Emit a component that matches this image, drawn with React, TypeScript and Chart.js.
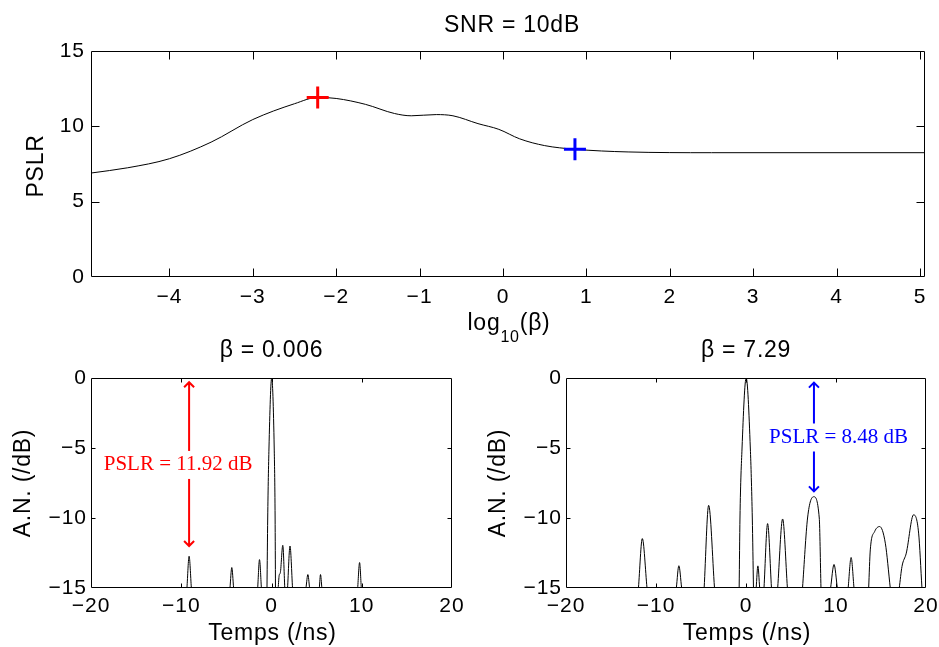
import React, { useEffect, useRef } from 'react';
import { Chart, registerables } from 'chart.js';

Chart.register(...registerables);

const SANS = '"Liberation Sans", Arial, Helvetica, sans-serif';
const SERIF = '"Liberation Serif", "Times New Roman", Times, serif';
const TICK_SPACING = '1px';
const LABEL_SPACING = '0.75px';

// ---------- top panel: PSLR vs log10(beta) ----------
const logBeta = [-4.94, -4.5, -4.0, -3.5, -3.0, -2.5, -2.22, -2.0, -1.65, -1.3, -1.1, -0.8, -0.6, -0.3, -0.05, 0.2, 0.5, 0.86, 1.5, 2.5, 5.06];
const pslrCurve = [6.9, 7.25, 7.85, 8.95, 10.45, 11.5, 11.92, 11.85, 11.46, 10.85, 10.7, 10.78, 10.7, 10.18, 9.8, 9.17, 8.72, 8.48, 8.3, 8.25, 8.25];
const topXTicks = [-4, -3, -2, -1, 0, 1, 2, 3, 4, 5];
const topYTicks = [0, 5, 10, 15];

const betaLow = 0.006;
const pslrLow = 11.92;
const betaHigh = 7.29;
const pslrHigh = 8.48;

// ---------- bottom panels: normalised amplitude vs time ----------
const timeTicks = [-20, -10, 0, 10, 20];
const levelTicks = [-15, -10, -5, 0];

// beta = 0.006 (null separates lobes)
const leftTime = [
  -9.37, -9.13, -8.88, -8.88,
  -4.6, -4.4, -4.2, -4.2,
  -1.53, -1.33, -1.12, -1.12,
  -0.5, -0.42, -0.28, 0.02, 0.3, 0.4, 0.44, 0.44,
  0.74, 0.85, 0.98, 1.25, 1.47, 1.47,
  1.78, 2.05, 2.33, 2.33,
  3.82, 4.03, 4.22, 4.22,
  5.3, 5.43, 5.58, 5.58,
  9.55, 9.76, 9.95,
];
const leftLevel = [
  -15, -12.73, -15, null,
  -15, -13.54, -15, null,
  -15, -12.97, -15, null,
  -15, -10, -5, 0, -5, -10, -15, null,
  -15, -14.1, -13.9, -11.95, -15, null,
  -15, -12.0, -15, null,
  -15, -14.04, -15, null,
  -15, -14.04, -15, null,
  -15, -13.18, -15,
];

// beta = 7.29
const rightTime = [
  -11.95, -11.52, -11.0, -11.0,
  -7.74, -7.46, -7.15, -7.15,
  -4.65, -4.15, -3.5, -3.5,
  -0.76, -0.67, -0.44, 0.02, 0.48, 0.7, 0.83, 0.83,
  1.13, 1.32, 1.52, 1.52,
  2.0, 2.4, 2.83, 2.83,
  3.52, 4.07, 4.6, 4.6,
  6.28, 6.84, 7.52, 8.14, 8.33, 8.33,
  9.4, 9.78, 10.15, 10.15,
  11.35, 11.68, 12.0, 12.0,
  13.63, 13.81, 14.29, 14.85, 15.48, 16.03, 16.03,
  17.03, 17.33, 17.81, 18.62, 19.18, 19.55,
];
const rightLevel = [
  -15, -11.47, -15, null,
  -15, -13.41, -15, null,
  -15, -9.1, -15, null,
  -15, -10, -5, 0, -5, -10, -15, null,
  -15, -13.42, -15, null,
  -15, -10.4, -15, null,
  -15, -10.07, -15, null,
  -15, -10, -8.48, -10, -15, null,
  -15, -13.32, -15, null,
  -15, -12.82, -15, null,
  -15, -12.28, -10.97, -10.61, -11.8, -15, null,
  -15, -13.47, -12.51, -9.77, -11.08, -15,
];

// annotation arrows (data coordinates)
const leftArrow = { x: -9.13, from: -0.3, to: -12.0, tx: -10.35, ty: -6.21 };
const rightArrow = { x: 7.55, from: -0.33, to: -8.1, tx: 10.29, ty: -4.25 };

type Txt = { t: string; x: number; y: number; size: number; rot?: boolean };
type Note = { x: number; from: number; to: number; tx: number; ty: number; text: string; color: string };

const fmt = (v: number) => String(v).replace('-', '\u2212');

function framePlugin(cfg: {
  tickLen: number;
  xTicks: number[];
  yTicks: number[];
  texts: Txt[];
  notes?: Note[];
  logLabel?: { cx: number; y: number };
}) {
  return {
    id: 'matlabFrame',
    beforeDraw(chart: any) {
      chart.ctx.letterSpacing = TICK_SPACING;
    },
    afterDraw(chart: any) {
      const ctx = chart.ctx as CanvasRenderingContext2D & { letterSpacing: string };
      const { left, right, top, bottom } = chart.chartArea;
      const xs = chart.scales.x;
      const ys = chart.scales.y;
      const L = Math.round(left) + 0.5;
      const R = Math.round(right) - 0.5;
      const T = Math.round(top) + 0.5;
      const B = Math.round(bottom) - 0.5;
      ctx.save();
      ctx.strokeStyle = '#000';
      ctx.lineWidth = 1;
      ctx.beginPath();
      ctx.rect(L, T, R - L, B - T);
      for (const v of cfg.xTicks) {
        const p = Math.round(xs.getPixelForValue(v)) + 0.5;
        if (Math.abs(p - L) < 2 || Math.abs(p - R) < 2) continue;
        ctx.moveTo(p, B);
        ctx.lineTo(p, B - cfg.tickLen);
        ctx.moveTo(p, T);
        ctx.lineTo(p, T + cfg.tickLen);
      }
      for (const v of cfg.yTicks) {
        const p = Math.round(ys.getPixelForValue(v)) + 0.5;
        if (Math.abs(p - T) < 2 || Math.abs(p - B) < 2) continue;
        ctx.moveTo(L, p);
        ctx.lineTo(L + cfg.tickLen, p);
        ctx.moveTo(R, p);
        ctx.lineTo(R - cfg.tickLen, p);
      }
      ctx.stroke();

      // annotations
      for (const n of cfg.notes || []) {
        const px = xs.getPixelForValue(n.x);
        const p0 = ys.getPixelForValue(n.from);
        const p1 = ys.getPixelForValue(n.to);
        ctx.strokeStyle = n.color;
        ctx.lineWidth = 2;
        ctx.beginPath();
        ctx.moveTo(px, p0);
        ctx.lineTo(px, p1);
        ctx.moveTo(px - 5, p0 + 5);
        ctx.lineTo(px, p0);
        ctx.lineTo(px + 5, p0 + 5);
        ctx.moveTo(px - 5, p1 - 5);
        ctx.lineTo(px, p1);
        ctx.lineTo(px + 5, p1 - 5);
        ctx.stroke();
        ctx.font = `21px ${SERIF}`;
        ctx.letterSpacing = '0px';
        const tx = xs.getPixelForValue(n.tx);
        const ty = ys.getPixelForValue(n.ty);
        const w = ctx.measureText(n.text).width;
        ctx.fillStyle = '#fff';
        ctx.fillRect(tx - w / 2 - 3, ty - 14, w + 6, 28);
        ctx.fillStyle = n.color;
        ctx.textAlign = 'center';
        ctx.textBaseline = 'middle';
        ctx.fillText(n.text, tx, ty);
      }

      // titles and axis labels
      ctx.fillStyle = '#000';
      ctx.letterSpacing = LABEL_SPACING;
      for (const t of cfg.texts) {
        ctx.font = `${t.size}px ${SANS}`;
        ctx.textAlign = 'center';
        if (t.rot) {
          ctx.save();
          ctx.translate(t.x, t.y);
          ctx.rotate(-Math.PI / 2);
          ctx.textBaseline = 'middle';
          ctx.fillText(t.t, 0, 0);
          ctx.restore();
        } else {
          ctx.textBaseline = 'alphabetic';
          ctx.fillText(t.t, t.x, t.y);
        }
      }
      if (cfg.logLabel) {
        const parts = [
          { s: 'log', size: 23, dy: 0 },
          { s: '10', size: 16, dy: 12 },
          { s: '(\u03B2)', size: 23, dy: 0 },
        ];
        let total = 0;
        const widths = parts.map((p) => {
          ctx.font = `${p.size}px ${SANS}`;
          const w = ctx.measureText(p.s).width;
          total += w;
          return w;
        });
        let x = cfg.logLabel.cx - total / 2;
        ctx.textAlign = 'left';
        ctx.textBaseline = 'alphabetic';
        parts.forEach((p, i) => {
          ctx.font = `${p.size}px ${SANS}`;
          ctx.fillText(p.s, x, cfg.logLabel!.y + p.dy);
          x += widths[i];
        });
      }
      ctx.restore();
    },
  };
}

function axis(min: number, max: number, ticks: number[], dim: 'width' | 'height', size: number, pad: number) {
  return {
    type: 'linear',
    min,
    max,
    grid: { display: false, drawTicks: false },
    border: { display: false },
    afterBuildTicks: (s: any) => {
      s.ticks = ticks.map((v) => ({ value: v }));
    },
    afterFit: (s: any) => {
      s[dim] = size;
      s.paddingLeft = 0;
      s.paddingRight = 0;
      s.paddingTop = 0;
      s.paddingBottom = 0;
    },
    ticks: {
      font: { family: SANS, size: 21 },
      color: '#000',
      padding: pad,
      autoSkip: false,
      maxRotation: 0,
      minRotation: 0,
      callback: (v: number) => fmt(v),
    },
  };
}

const baseOptions = {
  responsive: false,
  maintainAspectRatio: false,
  animation: false,
  events: [],
  plugins: { legend: { display: false }, title: { display: false }, tooltip: { enabled: false } },
};

function topConfig(): any {
  return {
    type: 'line',
    data: {
      datasets: [
        {
          data: [{ x: Math.log10(betaLow), y: pslrLow }],
          showLine: false,
          pointStyle: 'cross',
          pointRadius: 11,
          pointBorderWidth: 3,
          borderColor: '#ff0000',
          pointBorderColor: '#ff0000',
        },
        {
          data: [{ x: Math.log10(betaHigh), y: pslrHigh }],
          showLine: false,
          pointStyle: 'cross',
          pointRadius: 11,
          pointBorderWidth: 3,
          borderColor: '#0000ff',
          pointBorderColor: '#0000ff',
        },
        {
          data: logBeta.map((x, i) => ({ x, y: pslrCurve[i] })),
          borderColor: '#000',
          borderWidth: 1,
          pointRadius: 0,
          cubicInterpolationMode: 'monotone',
          clip: 0,
        },
      ],
    },
    options: {
      ...baseOptions,
      layout: { padding: { left: 0, right: 14, top: 51, bottom: 0 } },
      scales: {
        x: axis(-4.94, 5.06, topXTicks, 'height', 370, 8),
        y: axis(0, 15, topYTicks, 'width', 91, 6),
      },
    },
    plugins: [
      framePlugin({
        tickLen: 8,
        xTicks: topXTicks,
        yTicks: topYTicks,
        texts: [
          { t: 'SNR = 10dB', x: 512, y: 31.5, size: 23 },
          { t: 'PSLR', x: 36.7, y: 166, size: 23, rot: true },
        ],
        logLabel: { cx: 509, y: 330 },
      }),
    ],
  };
}

function bottomConfig(
  times: number[],
  levels: (number | null)[],
  pad: { left: number; right: number },
  title: string,
  cx: number,
  yLabelX: number,
  note: Note,
): any {
  return {
    type: 'line',
    data: {
      datasets: [
        {
          data: times.map((x, i) => ({ x, y: levels[i] })),
          borderColor: '#000',
          borderWidth: 1,
          pointRadius: 0,
          cubicInterpolationMode: 'monotone',
          spanGaps: false,
          clip: 0,
        },
      ],
    },
    options: {
      ...baseOptions,
      layout: { padding: { left: 0, right: pad.right, top: 378, bottom: 0 } },
      scales: {
        x: axis(-20, 20, timeTicks, 'height', 59, 6),
        y: axis(-15, 0, levelTicks, 'width', pad.left, 4),
      },
    },
    plugins: [
      framePlugin({
        tickLen: 4,
        xTicks: timeTicks,
        yTicks: levelTicks,
        texts: [
          { t: title, x: cx, y: 356.5, size: 23 },
          { t: 'Temps (/ns)', x: cx + 1, y: 640, size: 23 },
          { t: 'A.N. (/dB)', x: yLabelX, y: 483, size: 23, rot: true },
        ],
        notes: [note],
      }),
    ],
  };
}

export default function App() {
  const topRef = useRef<HTMLCanvasElement>(null);
  const leftRef = useRef<HTMLCanvasElement>(null);
  const rightRef = useRef<HTMLCanvasElement>(null);

  useEffect(() => {
    const charts = [
      new Chart(topRef.current!, topConfig()),
      new Chart(
        leftRef.current!,
        bottomConfig(leftTime, leftLevel, { left: 91, right: 487 }, `\u03B2 = ${betaLow}`, 271.5, 23.5, {
          x: leftArrow.x,
          from: leftArrow.from,
          to: leftArrow.to,
          tx: leftArrow.tx,
          ty: leftArrow.ty,
          text: `PSLR = ${pslrLow} dB`,
          color: '#ff0000',
        }),
      ),
      new Chart(
        rightRef.current!,
        bottomConfig(rightTime, rightLevel, { left: 566, right: 13 }, `\u03B2 = ${betaHigh}`, 746, 498.3, {
          x: rightArrow.x,
          from: rightArrow.from,
          to: rightArrow.to,
          tx: rightArrow.tx,
          ty: rightArrow.ty,
          text: `PSLR = ${pslrHigh} dB`,
          color: '#0000ff',
        }),
      ),
    ];
    return () => charts.forEach((c) => c.destroy());
  }, []);

  const cs: React.CSSProperties = { position: 'absolute', left: 0, top: 0, width: 939, height: 647 };
  return (
    <div style={{ position: 'fixed', left: 0, top: 0, width: 939, height: 647, background: '#fff' }}>
      <canvas ref={topRef} width={939} height={647} style={cs} />
      <canvas ref={leftRef} width={939} height={647} style={cs} />
      <canvas ref={rightRef} width={939} height={647} style={cs} />
    </div>
  );
}
